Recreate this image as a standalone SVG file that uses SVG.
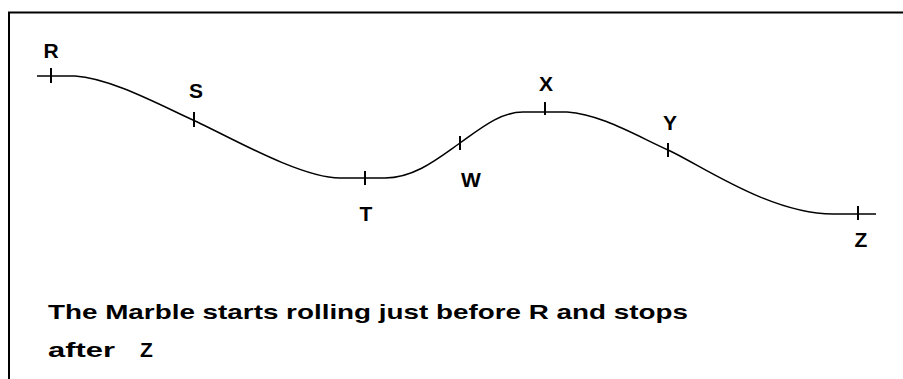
<svg xmlns="http://www.w3.org/2000/svg" width="903" height="379" viewBox="0 0 903 379">
<style>
.lbl{font-family:"Liberation Sans",Arial,sans-serif;font-weight:bold;font-size:21px;fill:#000;text-anchor:middle}
.txt{font-family:"Liberation Sans",Arial,sans-serif;font-weight:bold;font-size:21px;fill:#000}
.tick{stroke:#000;stroke-width:2}
.curve{fill:none;stroke:#000;stroke-width:1.5}
</style>
<rect width="903" height="379" fill="#fff"/>
<g id="frame">
<line x1="8" y1="12.5" x2="903" y2="12.5" stroke="#000" stroke-width="2"/>
<line x1="9" y1="12" x2="9" y2="379" stroke="#000" stroke-width="2"/>
</g>
<g id="connectors">
<path class="curve" d="M37,76 H75 C110,78 160,105 193,120 C226,135 300,178 340,178 H385 C415,178 440,157 460,143 C480,129 500,112 523,112 H567 C600,114 635,135 668,150 C701,165 770,214 833,214 H876"/>
</g>
<g id="R"><line class="tick" x1="51" y1="68" x2="51" y2="83"/><text class="lbl" x="51" y="58">R</text></g>
<g id="S"><line class="tick" x1="194" y1="112" x2="194" y2="127"/><text class="lbl" x="196" y="98">S</text></g>
<g id="T"><line class="tick" x1="365" y1="171" x2="365" y2="185"/><text class="lbl" x="366" y="221">T</text></g>
<g id="W"><line class="tick" x1="460" y1="136" x2="460" y2="150"/><text class="lbl" x="471" y="187">W</text></g>
<g id="X"><line class="tick" x1="545" y1="102" x2="545" y2="115"/><text class="lbl" x="546" y="91">X</text></g>
<g id="Y"><line class="tick" x1="668" y1="143" x2="668" y2="157"/><text class="lbl" x="670" y="130">Y</text></g>
<g id="Z"><line class="tick" x1="858" y1="206" x2="858" y2="220"/><text class="lbl" x="861" y="247">Z</text></g>
<g id="caption">
<text class="txt" x="48" y="319" textLength="640" lengthAdjust="spacingAndGlyphs">The Marble starts rolling just before R and stops</text>
<text class="txt" x="48" y="357"><tspan textLength="67" lengthAdjust="spacingAndGlyphs">after</tspan><tspan x="140">Z</tspan></text>
</g>
</svg>
